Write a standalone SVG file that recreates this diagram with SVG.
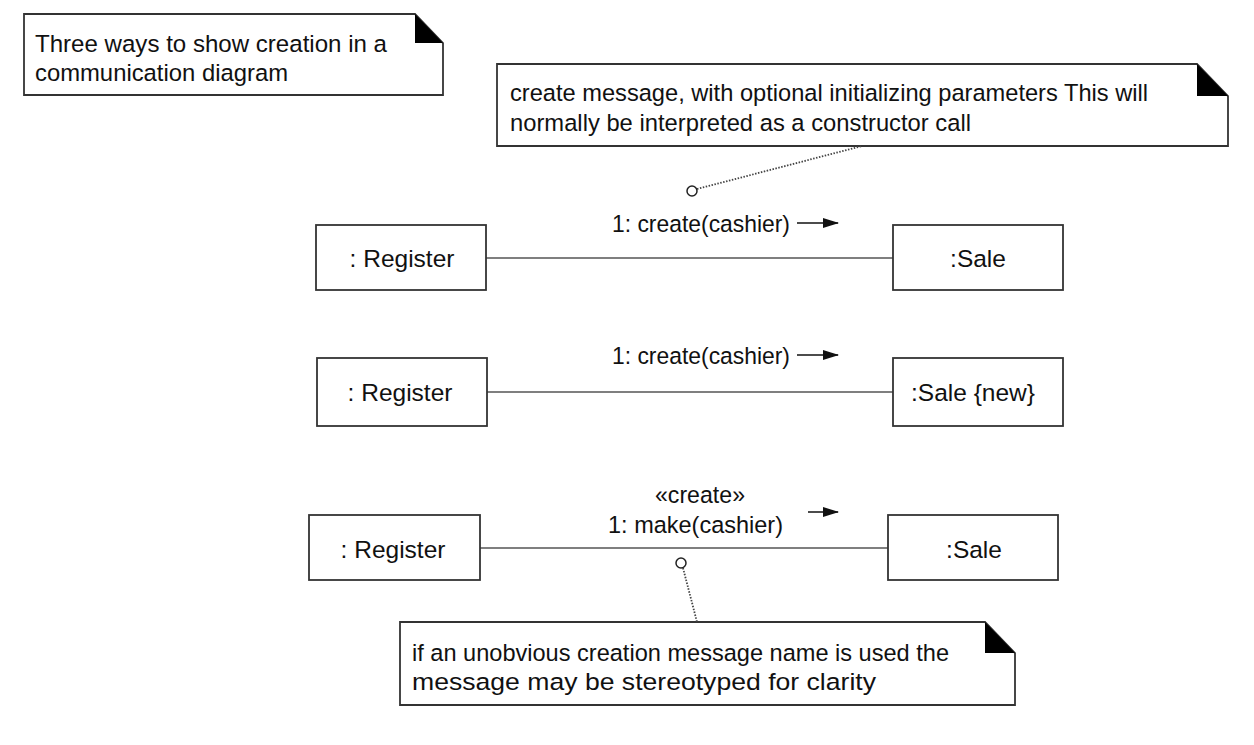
<svg xmlns="http://www.w3.org/2000/svg" width="1254" height="745" viewBox="0 0 1254 745">
<style>
text{font-family:"Liberation Sans",Arial,sans-serif;font-size:24.5px;fill:#111}
.box{fill:#fff;stroke:#333;stroke-width:1.8}
.note{fill:#fff;stroke:#333;stroke-width:1.8}
.fold{fill:#000}
.link{stroke:#555;stroke-width:1.4;fill:none}
.dot{stroke:#444;stroke-width:1.8;stroke-dasharray:1.5 1.5;fill:none}
.ring{fill:#fff;stroke:#222;stroke-width:1.5}
.msg{stroke:#111;stroke-width:1.5;fill:none}
.mid{text-anchor:middle}
</style>
<defs>
<marker id="ah" markerWidth="16" markerHeight="10" refX="15" refY="5" orient="auto" markerUnits="userSpaceOnUse">
<path d="M0,0 L16,5 L0,10 Z" fill="#111"/>
</marker>
</defs>
<g id="note-title">
<path class="note" d="M24,14 H415 L443,43 V95 H24 Z"/>
<path class="fold" d="M415,14 V43 H443 Z"/>
<text x="35" y="52" textLength="352" lengthAdjust="spacingAndGlyphs">Three ways to show creation in a</text>
<text x="35" y="81" textLength="253" lengthAdjust="spacingAndGlyphs">communication diagram</text>
</g>
<g id="note-create">
<path class="note" d="M497,64 H1197 L1228,96 V146 H497 Z"/>
<path class="fold" d="M1197,64 V96 H1228 Z"/>
<text x="510" y="101" textLength="638" lengthAdjust="spacingAndGlyphs">create message, with optional initializing parameters This will</text>
<text x="510" y="131" textLength="461" lengthAdjust="spacingAndGlyphs">normally be interpreted as a constructor call</text>
</g>
<g id="note-stereo">
<path class="note" d="M400,622 H985 L1015,653 V705 H400 Z"/>
<path class="fold" d="M985,622 V653 H1015 Z"/>
<text x="412" y="661" textLength="537" lengthAdjust="spacingAndGlyphs">if an unobvious creation message name is used the</text>
<text x="412" y="690" textLength="464" lengthAdjust="spacingAndGlyphs">message may be stereotyped for clarity</text>
</g>
<g id="connectors">
<line class="link" x1="486" y1="258" x2="893" y2="258"/>
<line class="link" x1="487" y1="392" x2="893" y2="392"/>
<line class="link" x1="480" y1="548" x2="888" y2="548"/>
<line class="msg" x1="797" y1="223" x2="838" y2="223" marker-end="url(#ah)"/>
<line class="msg" x1="797" y1="355" x2="838" y2="355" marker-end="url(#ah)"/>
<line class="msg" x1="808" y1="512" x2="838" y2="512" marker-end="url(#ah)"/>
<line class="dot" x1="697" y1="189" x2="862" y2="146"/>
<circle class="ring" cx="692" cy="191" r="5"/>
<line class="dot" x1="683" y1="568" x2="697" y2="622"/>
<circle class="ring" cx="681" cy="563" r="5"/>
<text x="612" y="232" textLength="178" lengthAdjust="spacingAndGlyphs">1: create(cashier)</text>
<text x="612" y="364" textLength="178" lengthAdjust="spacingAndGlyphs">1: create(cashier)</text>
<text x="655" y="503" textLength="90" lengthAdjust="spacingAndGlyphs">«create»</text>
<text x="608" y="533" textLength="175" lengthAdjust="spacingAndGlyphs">1: make(cashier)</text>
</g>
<g id="register1">
<rect class="box" x="316" y="225" width="170" height="65"/>
<text x="402" y="267" class="mid">: Register</text>
</g>
<g id="sale1">
<rect class="box" x="893" y="225" width="170" height="65"/>
<text x="978" y="267" class="mid">:Sale</text>
</g>
<g id="register2">
<rect class="box" x="317" y="358" width="170" height="68"/>
<text x="400" y="401" class="mid">: Register</text>
</g>
<g id="sale2">
<rect class="box" x="893" y="358" width="170" height="68"/>
<text x="973" y="401" class="mid">:Sale {new}</text>
</g>
<g id="register3">
<rect class="box" x="309" y="515" width="171" height="65"/>
<text x="393" y="558" class="mid">: Register</text>
</g>
<g id="sale3">
<rect class="box" x="888" y="515" width="170" height="65"/>
<text x="974" y="558" class="mid">:Sale</text>
</g>
</svg>
